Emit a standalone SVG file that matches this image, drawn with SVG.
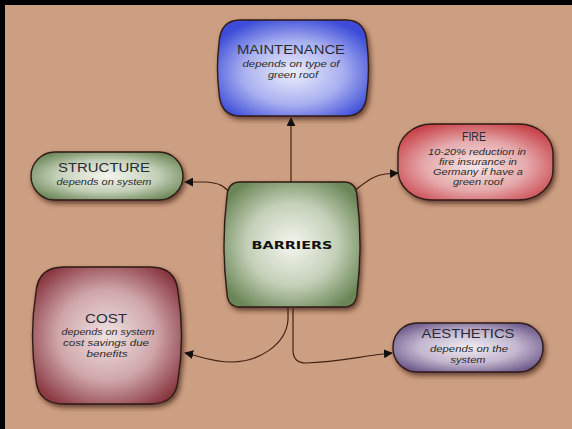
<svg xmlns="http://www.w3.org/2000/svg" width="572" height="429" viewBox="0 0 572 429">
<defs>
<style>
.node{stroke:#2e1a14;stroke-width:1.4;filter:url(#sh)}
.t{font-family:"Liberation Sans",Arial,sans-serif;font-size:12px;fill:#2a2a35;text-anchor:middle}
.s{font-family:"Liberation Sans",Arial,sans-serif;font-size:9.5px;font-style:italic;fill:#2a2a2a;text-anchor:middle}
.b{font-family:"DejaVu Sans",sans-serif;font-size:11px;font-weight:bold;fill:#111;text-anchor:middle}
.c{fill:none;stroke:#3e2214;stroke-width:1.2}
</style>
<filter id="sh" x="-20%" y="-20%" width="150%" height="150%">
<feDropShadow dx="2" dy="3" stdDeviation="2.5" flood-color="#3a1e12" flood-opacity="0.7"/>
</filter>
<marker id="ar" viewBox="0 0 10 10" refX="9" refY="5" markerWidth="9" markerHeight="9" markerUnits="userSpaceOnUse" orient="auto">
<path d="M0,0 L10,5 L0,10 Z" fill="#111"/>
</marker>
<radialGradient id="gB" cx="50%" cy="55%" r="60%"><stop offset="0" stop-color="#eceefc"/><stop offset="0.55" stop-color="#a9b0f0"/><stop offset="1" stop-color="#3c4cd8"/></radialGradient>
<radialGradient id="gR" cx="50%" cy="55%" r="60%"><stop offset="0" stop-color="#f6e6e6"/><stop offset="0.55" stop-color="#e5a9ab"/><stop offset="1" stop-color="#c8454c"/></radialGradient>
<radialGradient id="gG" cx="50%" cy="50%" r="60%"><stop offset="0" stop-color="#f4f5ef"/><stop offset="0.55" stop-color="#c4d0b8"/><stop offset="1" stop-color="#6a8656"/></radialGradient>
<radialGradient id="gC" cx="50%" cy="50%" r="60%"><stop offset="0" stop-color="#efe2e2"/><stop offset="0.55" stop-color="#cfa6aa"/><stop offset="1" stop-color="#8a3842"/></radialGradient>
<radialGradient id="gP" cx="50%" cy="50%" r="60%"><stop offset="0" stop-color="#efecf2"/><stop offset="0.55" stop-color="#c3b6cf"/><stop offset="1" stop-color="#6a5688"/></radialGradient>
</defs>
<rect x="0" y="0" width="572" height="429" fill="#cd9f82"/>
<rect x="0" y="0" width="572" height="5" fill="#000"/>
<rect x="0" y="0" width="5" height="429" fill="#000"/>

<g id="connectors">
<path class="c" d="M291,182 V118" marker-end="url(#ar)"/>
<path class="c" d="M231,194 C224,186 220,183 206,182 L185,182" marker-end="url(#ar)"/>
<path class="c" d="M354,191 C366,182 374,175 385,174 L398,173" marker-end="url(#ar)"/>
<path class="c" d="M288,308 V320 C286,345 258,362 232,362 C210,362 200,356 185,353" marker-end="url(#ar)"/>
<path class="c" d="M293,308 V350 C293,360 298,363 306,363 C340,362 360,356 392,353" marker-end="url(#ar)"/>
</g>

<g id="maintenance">
<path class="node" fill="url(#gB)" d="M240,20 H346 Q366,20 367,44 Q370,68 367,92 Q366,116 346,116 H240 Q220,116 219,92 Q216,68 219,44 Q220,20 240,20 Z"/>
<text class="t" x="291" y="54" textLength="108" lengthAdjust="spacingAndGlyphs">MAINTENANCE</text>
<text class="s" x="291" y="67" textLength="97" lengthAdjust="spacingAndGlyphs">depends on type of</text>
<text class="s" x="293" y="78" textLength="50" lengthAdjust="spacingAndGlyphs">green roof</text>
</g>

<g id="fire">
<rect class="node" fill="url(#gR)" x="398" y="124" width="155" height="76" rx="34" ry="30"/>
<text class="t" x="474" y="141" textLength="24" lengthAdjust="spacingAndGlyphs">FIRE</text>
<text class="s" x="477" y="155" textLength="98" lengthAdjust="spacingAndGlyphs">10-20% reduction in</text>
<text class="s" x="478" y="165" textLength="78" lengthAdjust="spacingAndGlyphs">fire insurance in</text>
<text class="s" x="478" y="175" textLength="90" lengthAdjust="spacingAndGlyphs">Germany if have a</text>
<text class="s" x="478" y="185" textLength="50" lengthAdjust="spacingAndGlyphs">green roof</text>
</g>

<g id="structure">
<rect class="node" fill="url(#gG)" x="31" y="152" width="152" height="48" rx="24" ry="24"/>
<text class="t" x="104" y="172" textLength="92" lengthAdjust="spacingAndGlyphs">STRUCTURE</text>
<text class="s" x="104" y="185" textLength="95" lengthAdjust="spacingAndGlyphs">depends on system</text>
</g>

<g id="barriers">
<path class="node" fill="url(#gG)" d="M240,182 H344 Q356,182 357,196 Q363,245 357,294 Q356,307 344,307 H240 Q228,307 227,294 Q221,245 227,196 Q228,182 240,182 Z"/>
<text class="b" x="292" y="249" textLength="81" lengthAdjust="spacingAndGlyphs">BARRIERS</text>
</g>

<g id="cost">
<path class="node" fill="url(#gC)" d="M64,267 H150 Q176,267 178,292 Q185,336 178,380 Q176,404 150,404 H64 Q38,404 36,380 Q29,336 36,292 Q38,267 64,267 Z"/>
<text class="t" x="106" y="323" textLength="42" lengthAdjust="spacingAndGlyphs">COST</text>
<text class="s" x="108" y="335" textLength="93" lengthAdjust="spacingAndGlyphs">depends on system</text>
<text class="s" x="106" y="346" textLength="86" lengthAdjust="spacingAndGlyphs">cost savings due</text>
<text class="s" x="107" y="357" textLength="41" lengthAdjust="spacingAndGlyphs">benefits</text>
</g>

<g id="aesthetics">
<rect class="node" fill="url(#gP)" x="393" y="323" width="150" height="49" rx="24" ry="24"/>
<text class="t" x="468" y="338" textLength="93" lengthAdjust="spacingAndGlyphs">AESTHETICS</text>
<text class="s" x="469" y="352" textLength="78" lengthAdjust="spacingAndGlyphs">depends on the</text>
<text class="s" x="468" y="363" textLength="35" lengthAdjust="spacingAndGlyphs">system</text>
</g>
</svg>
